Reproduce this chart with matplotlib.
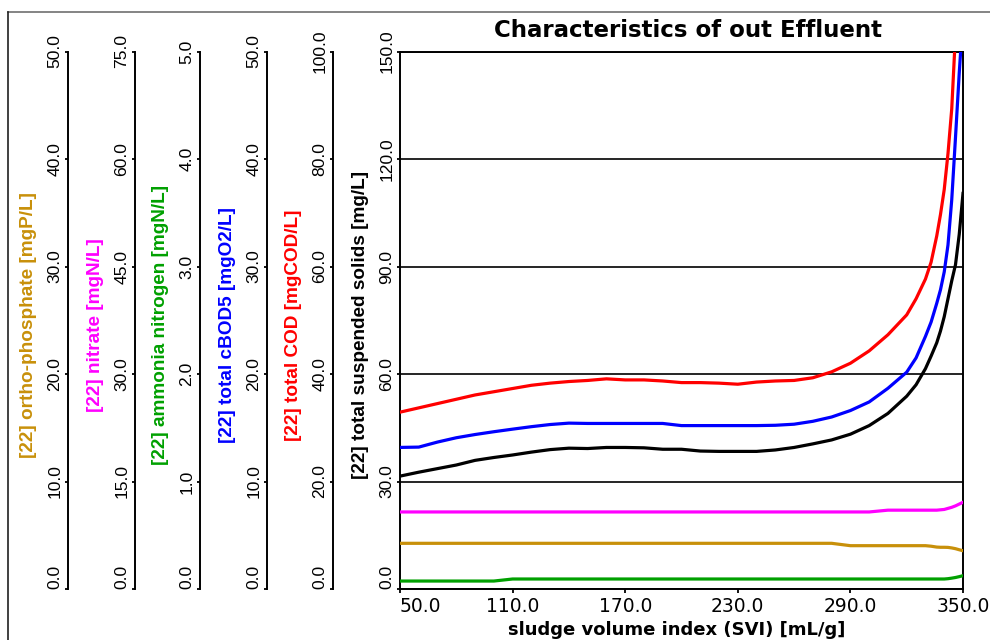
import numpy as np
import matplotlib
matplotlib.use("Agg")
import matplotlib.pyplot as plt
from matplotlib import font_manager
from matplotlib.lines import Line2D

# sludge volume index [mL/g]
svi = [50, 60, 70, 80, 90, 100, 110, 120, 130, 140, 150, 160, 170, 180, 190,
       200, 210, 220, 230, 240, 250, 260, 270, 280, 290, 300, 310,
       320, 325, 330, 333, 336, 338, 340, 342, 344, 346, 348, 350]

# effluent concentrations, each in its own units
tss = [31.5, 32.6, 33.6, 34.6, 35.9, 36.7, 37.4, 38.2, 38.9, 39.3, 39.2, 39.5,
       39.5, 39.4, 39.0, 39.0, 38.5, 38.4, 38.4, 38.4, 38.8, 39.5, 40.5, 41.6,
       43.2, 45.6, 49.0,
       53.8, 57.0, 61.5, 65.0, 68.7, 72.0, 76.0, 81.0, 86.0, 90.5, 99.0, 110.4]
cod = [32.9, 33.7, 34.5, 35.3, 36.1, 36.7, 37.3, 37.9, 38.3, 38.6, 38.8, 39.1,
       38.9, 38.9, 38.7, 38.4, 38.4, 38.3, 38.1, 38.5, 38.7, 38.8, 39.3, 40.4,
       42.0, 44.3, 47.3,
       51.0, 54.0, 57.67, 60.8, 65.67, 69.67, 74.33, 81.0, 89.33, 103.33,
       116.67, 130.0]
cbod5 = [13.17, 13.2, 13.67, 14.07, 14.37, 14.63, 14.87, 15.1, 15.3, 15.43,
         15.4, 15.4, 15.4, 15.4, 15.4, 15.2, 15.2, 15.2, 15.2, 15.2, 15.23,
         15.33, 15.6, 16.0, 16.6, 17.4, 18.67,
         20.17, 21.5, 23.5, 24.83, 26.57, 27.83, 29.5, 32.0, 36.2, 42.0, 48.0,
         53.33]
ammonia = [0.074, 0.074, 0.074, 0.074, 0.074, 0.074, 0.093, 0.093, 0.093,
           0.093, 0.093, 0.093, 0.093, 0.093, 0.093, 0.093, 0.093, 0.093,
           0.093, 0.093, 0.093, 0.093, 0.093, 0.093, 0.093, 0.093, 0.093,
           0.093, 0.093, 0.093, 0.093, 0.093, 0.093, 0.093, 0.096, 0.101,
           0.107, 0.115, 0.124]
nitrate = [10.75, 10.75, 10.75, 10.75, 10.75, 10.75, 10.75, 10.75, 10.75,
           10.75, 10.75, 10.75, 10.75, 10.75, 10.75, 10.75, 10.75, 10.75,
           10.75, 10.75, 10.75, 10.75, 10.75, 10.75, 10.75, 10.75, 11.0,
           11.0, 11.0, 11.0, 11.0, 11.0, 11.05, 11.1, 11.25, 11.4, 11.6, 11.85,
           12.1]
ortho_p = [4.25, 4.25, 4.25, 4.25, 4.25, 4.25, 4.25, 4.25, 4.25, 4.25, 4.25,
           4.25, 4.25, 4.25, 4.25, 4.25, 4.25, 4.25, 4.25, 4.25, 4.25, 4.25,
           4.25, 4.25, 4.03, 4.03, 4.03,
           4.03, 4.03, 4.03, 3.98, 3.9, 3.88, 3.88, 3.87, 3.82, 3.75, 3.65,
           3.56]

x_ticks = [50, 110, 170, 230, 290, 350]

# pick a condensed face for the tick numbers if there is one
names = set(f.name for f in font_manager.fontManager.ttflist)
if 'Liberation Sans Narrow' in names:
    narrow, tick_size = 'Liberation Sans Narrow', 14
else:
    narrow, tick_size = 'Liberation Sans', 12.6

fig = plt.figure(figsize=(9.9, 6.4), dpi=100)
W, H = 990.0, 640.0
left, right, top, bottom = 400, 963, 51.5, 589
ax = fig.add_axes([left / W, 1 - bottom / H, (right - left) / W, (bottom - top) / H])
aw = right - left


def style_yaxis(a, ymax, color, label, spine_px):
    a.set_ylim(0, ymax)
    ticks = np.linspace(0, ymax, 6)
    a.set_yticks(ticks)
    a.set_yticklabels(['%.1f' % t for t in ticks], rotation=90, va='center',
                      family=narrow, fontsize=tick_size)
    a.get_yticklabels()[0].set_va('bottom')
    a.tick_params(axis='y', direction='out', length=2.5, width=1.3, pad=1.5,
                  colors='black')
    a.set_ylabel(label, color=color, fontsize=13.7, fontweight='bold',
                 family='Liberation Sans')
    a.yaxis.set_label_coords((spine_px - 31 - left) / aw,
                             (bottom - 325) / (bottom - top))


# main axis: total suspended solids
ax.plot(svi, tss, color='black', lw=2.3, zorder=3)
ax.set_xlim(50, 350)
ax.set_xticks(x_ticks)
ax.set_xticklabels(['%.1f' % t for t in x_ticks], family='DejaVu Sans',
                   fontsize=13.5)
ax.get_xticklabels()[0].set_ha('left')
ax.tick_params(axis='x', direction='out', length=3, width=1.3, pad=3)
ax.grid(axis='y', color='black', lw=1.2)
ax.set_axisbelow(True)
for s in ax.spines.values():
    s.set_linewidth(1.4)
style_yaxis(ax, 150, 'black', '[22] total suspended solids [mg/L]', left)

# the other variables, each with its own axis moved to the left
extra = [
    (cod, 100, '#ff0000', '[22] total COD [mgCOD/L]'),
    (cbod5, 50, '#0000ff', '[22] total cBOD5 [mgO2/L]'),
    (ammonia, 5, '#00a000', '[22] ammonia nitrogen [mgN/L]'),
    (nitrate, 75, '#ff00ff', '[22] nitrate [mgN/L]'),
    (ortho_p, 50, '#c8900a', '[22] ortho-phosphate [mgP/L]'),
]
spine_x = [333, 267, 200, 135, 68]

for (vals, ymax, color, label), sx in zip(extra, spine_x):
    tw = ax.twinx()
    tw.plot(svi, vals, color=color, lw=2.3)
    tw.yaxis.set_ticks_position('left')
    tw.yaxis.set_label_position('left')
    tw.spines['left'].set_position(('axes', (sx - left) / aw))
    tw.spines['left'].set_visible(True)
    tw.spines['left'].set_linewidth(1.4)
    for s in ['right', 'top', 'bottom']:
        tw.spines[s].set_visible(False)
    style_yaxis(tw, ymax, color, label, sx)

ax.set_xlabel('sludge volume index (SVI) [mL/g]', fontweight='bold',
              family='DejaVu Sans', fontsize=13, va='baseline')
ax.xaxis.set_label_coords((677 - left) / aw, (bottom - 635) / (bottom - top))

fig.text(687.5 / W, 1 - 36.7 / H, 'Characteristics of out Effluent',
         ha='center', va='baseline', fontweight='bold', family='DejaVu Sans',
         fontsize=16.5)

# outer frame lines
fig.add_artist(Line2D([8 / W, 1], [1 - 12 / H, 1 - 12 / H],
                      transform=fig.transFigure, color='#707070', lw=1.2))
fig.add_artist(Line2D([8 / W, 8 / W], [0, 1 - 12 / H],
                      transform=fig.transFigure, color='#202020', lw=1.2))

fig.savefig('out.png', dpi=100)
